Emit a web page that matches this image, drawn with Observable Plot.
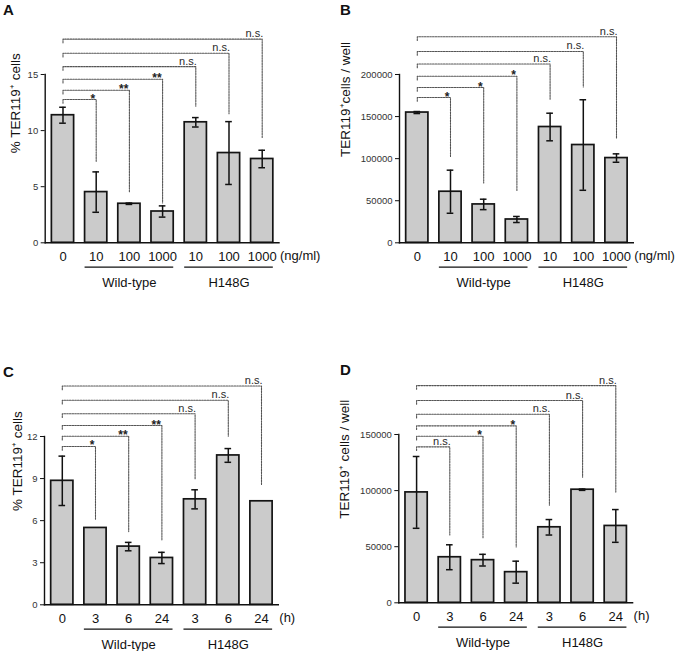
<!DOCTYPE html>
<html><head><meta charset="utf-8">
<script src="https://cdn.jsdelivr.net/npm/d3@7"></script>
<script src="https://cdn.jsdelivr.net/npm/@observablehq/plot@0.6"></script>
<style>
body{margin:0;background:#fff;font-family:"Liberation Sans",Arial,sans-serif;}
#fig{position:relative;width:675px;height:651px;overflow:hidden;background:#fff;}
.panel{position:absolute;}
.panel svg{overflow:visible;}
.letter{position:absolute;font-weight:bold;font-size:15px;color:#111;font-family:"Liberation Sans",Arial,sans-serif;}
</style></head><body><div id="fig"></div>
<script>
// Shared categories
const doseLabels = ["0","10","100","1000","10","100","1000"];
const timeLabels = ["0","3","6","24","3","6","24"];
const groupNames = ["Wild-type","H148G"];
const groupFrom = [1,4];
const groupTo = [3,6];

// Panel A: % TER119+ cells vs dose
const aValues = [11.37, 4.52, 3.48, 2.79, 10.74, 8.0, 7.47];
const aErrors = [0.71, 1.8, 0.06, 0.5, 0.42, 2.8, 0.78];
const aSigLine = [12.77, 13.6, 14.58, 15.7, 16.9, 18.15];
const aSigDrop = [7.26, 4.52, 3.55, 12.17, 11.5, 9.38];
const aSigLabels = ["*","**","**","n.s.","n.s.","n.s."];
const aTicks = [0,5,10,15];

// Panel B: TER119+ cells / well vs dose
const bValues = [154800, 60700, 45600, 27700, 137600, 116200, 100700];
const bErrors = [1200, 25600, 6200, 3600, 16400, 53800, 5000];
const bSigLine = [172600, 184500, 198000, 212500, 227400, 244800];
const bSigDrop = [102700, 71000, 61400, 169400, 185200, 123800];
const bSigLabels = ["*","*","*","n.s.","n.s.","n.s."];
const bTicks = [0,50000,100000,150000,200000];

// Panel C: % TER119+ cells vs time
const cValues = [8.84, 5.48, 4.15, 3.34, 7.52, 10.65, 7.38];
const cErrors = [1.76, 0, 0.3, 0.4, 0.68, 0.49, 0];
const cSigLine = [11.29, 12.02, 12.78, 13.62, 14.58, 15.6];
const cSigDrop = [6.05, 5.22, 4.62, 8.94, 12.02, 8.58];
const cSigLabels = ["*","**","**","n.s.","n.s.","n.s."];
const cTicks = [0,3,6,9,12];

// Panel D: TER119+ cells / well vs time
const dValues = [98400, 40600, 38000, 27300, 67300, 100800, 68500];
const dErrors = [32000, 11100, 5200, 9800, 6900, 600, 14600];
const dSigLine = [139000, 148500, 157700, 168000, 180300, 193600];
const dSigDrop = [60500, 57500, 49800, 86900, 112000, 98200];
const dSigLabels = ["n.s.","*","*","n.s.","n.s.","n.s."];
const dTicks = [0,50000,100000,150000];

const panels = [
  {letter:"A", left:0, top:0, width:337, ml:44.7, values:aValues, errors:aErrors, sigLine:aSigLine, sigDrop:aSigDrop, sigLabels:aSigLabels, ticks:aTicks, xLabels:doseLabels, unit:"(ng/ml)", yLabel:"% TER119\u207A cells", labelX:15.3, labelDy:-5.5},
  {letter:"B", left:337, top:0, width:338, ml:62, values:bValues, errors:bErrors, sigLine:bSigLine, sigDrop:bSigDrop, sigLabels:bSigLabels, ticks:bTicks, xLabels:doseLabels, unit:"(ng/ml)", yLabel:"TER119\u207Acells / well", labelX:8, labelDy:-1.7},
  {letter:"C", left:0, top:361.7, width:337, ml:44, values:cValues, errors:cErrors, sigLine:cSigLine, sigDrop:cSigDrop, sigLabels:cSigLabels, ticks:cTicks, xLabels:timeLabels, unit:"(h)", yLabel:"% TER119\u207A cells", labelX:16.7, labelDy:-9.7},
  {letter:"D", left:337, top:360.4, width:338, ml:61.3, values:dValues, errors:dErrors, sigLine:dSigLine, sigDrop:dSigDrop, sigLabels:dSigLabels, ticks:dTicks, xLabels:timeLabels, unit:"(h)", yLabel:"TER119\u207A cells / well", labelX:7, labelDy:0}
];

const H = 300, FRAME_W = 233.8, MT = 74, MB = H - 242.3;
const HALF = 0.335, CAP = 0.1;
const font = "'Liberation Sans', Arial, sans-serif";

function makePanel(cfg) {
  const idx = d3.range(cfg.values.length);
  const yTop = cfg.ticks[cfg.ticks.length - 1];
  const bars = idx.map(i => ({i, v: cfg.values[i], lo: cfg.values[i] - cfg.errors[i], hi: cfg.values[i] + cfg.errors[i], e: cfg.errors[i]}));
  const errBars = bars.filter(d => d.e > 0);
  const caps = errBars.flatMap(d => [{i: d.i, y: d.lo}, {i: d.i, y: d.hi}]);
  const sig = cfg.sigLine.map((y, k) => ({x: k + 1, line: y, drop: cfg.sigDrop[k], label: cfg.sigLabels[k]}));
  const stars = sig.filter(s => s.label.startsWith("*"));
  const ns = sig.filter(s => !s.label.startsWith("*"));
  const tick = yTop * 0.022;
  const path = sig.flatMap(s => [
    {k: s.x, x: 0, y: s.line - tick},
    {k: s.x, x: 0, y: s.line},
    {k: s.x, x: s.x, y: s.line},
    {k: s.x, x: s.x, y: s.drop}
  ]);
  const groups = groupNames.map((g, j) => ({name: g, from: groupFrom[j], to: groupTo[j]}));
  return Plot.plot({
    width: cfg.width, height: H,
    marginLeft: cfg.ml, marginRight: cfg.width - cfg.ml - FRAME_W, marginTop: MT, marginBottom: MB,
    x: {domain: [-0.536, 6.506]},
    y: {domain: [0, yTop]},
    style: {fontFamily: font, background: "white", overflow: "visible"},
    marks: [
      Plot.rect(bars, {x1: d => d.i - HALF, x2: d => d.i + HALF, y1: 0, y2: "v", fill: "#cbcbcb", stroke: "#141414", strokeWidth: 1.7}),
      Plot.ruleX(errBars, {x: "i", y1: "lo", y2: "hi", stroke: "#111", strokeWidth: 1.5}),
      Plot.ruleY(caps, {y: "y", x1: d => d.i - CAP, x2: d => d.i + CAP, stroke: "#111", strokeWidth: 1.5}),
      Plot.line(path, {x: "x", y: "y", z: "k", stroke: "#555", strokeWidth: 1.1, strokeDasharray: "1.6,1.1", curve: "linear"}),
      Plot.text(ns, {x: "x", y: "line", text: "label", textAnchor: "end", lineAnchor: "bottom", dx: 1, dy: -2, fill: "#2a2a2a", fontSize: 11}),
      Plot.text(stars, {x: "x", y: "line", text: "label", textAnchor: "end", lineAnchor: "bottom", dx: -1, dy: 3, fill: "#222", fontSize: 12, fontWeight: "bold"}),
      Plot.frame({anchor: "left", stroke: "#111", strokeWidth: 1.4}),
      Plot.frame({anchor: "bottom", stroke: "#111", strokeWidth: 1.4}),
      Plot.axisY(cfg.ticks, {tickSize: 4, tickPadding: 3, tickFormat: d3.format("d"), fontSize: 9.5, color: "#333", stroke: "#111", label: null}),
      Plot.axisX(idx, {tickSize: 0, tickPadding: 9, tickFormat: i => cfg.xLabels[i], fontSize: 13, color: "#111", label: null}),
      Plot.text([cfg.unit], {frameAnchor: "bottom-right", textAnchor: "start", lineAnchor: "bottom", dx: 1, dy: 17.5, fontSize: 13, fill: "#111"}),
      Plot.ruleY(groups, {y: 0, x1: d => d.from - HALF, x2: d => d.to + HALF, dy: 24.4, stroke: "#111", strokeWidth: 1.2}),
      Plot.text(groups, {x: d => (d.from + d.to) / 2, y: 0, text: "name", lineAnchor: "bottom", dy: 44, fontSize: 13, fill: "#111"}),
      Plot.text([cfg.yLabel], {frameAnchor: "left", rotate: -90, dx: cfg.labelX - cfg.ml, dy: cfg.labelDy, fontSize: 13.5, fill: "#111"})
    ]
  });
}

const fig = document.getElementById("fig");
for (const cfg of panels) {
  const div = document.createElement("div");
  div.className = "panel";
  div.style.left = cfg.left + "px";
  div.style.top = cfg.top + "px";
  div.appendChild(makePanel(cfg));
  fig.appendChild(div);
  const L = document.createElement("div");
  L.className = "letter";
  L.textContent = cfg.letter;
  L.style.left = (cfg.left + 3) + "px";
  L.style.top = (cfg.top + 1) + "px";
  fig.appendChild(L);
}
</script>
</body></html>
